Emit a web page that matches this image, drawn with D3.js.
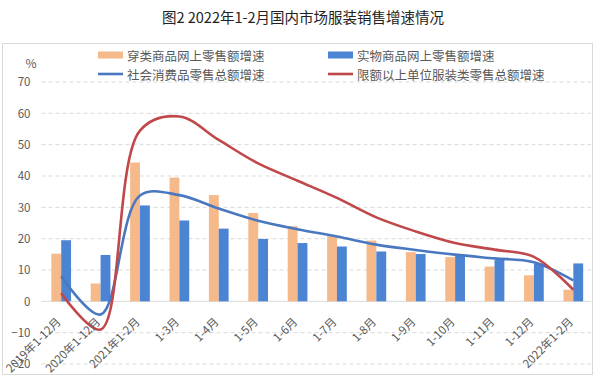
<!DOCTYPE html>
<html>
<head>
<meta charset="utf-8">
<script src="https://cdn.jsdelivr.net/npm/d3@7/dist/d3.min.js"></script>
<style>
  body { margin: 0; background: #fff; }
  svg text { font-family: "Noto Sans CJK SC", "Noto Sans", sans-serif; }
</style>
</head>
<body>
<svg id="chart" width="595" height="377"></svg>
<script>
var categories = ["2019年1-12月", "2020年1-12月", "2021年1-2月", "1-3月", "1-4月", "1-5月", "1-6月",
                  "1-7月", "1-8月", "1-9月", "1-10月", "1-11月", "1-12月", "2022年1-2月"];
var clothingOnline = [15.2, 5.7, 44.3, 39.5, 33.9, 28.2, 24.0, 20.8, 19.4, 15.7, 14.1, 11.1, 8.3, 3.7];
var physicalOnline = [19.5, 14.8, 30.6, 25.8, 23.2, 19.9, 18.6, 17.5, 15.9, 15.1, 14.6, 13.2, 12.0, 12.1];
var retailTotal = [8.0, -4.2, 33.8, 33.9, 29.6, 25.7, 23.0, 20.7, 18.1, 16.4, 14.9, 13.7, 12.5, 6.7];
var clothingRetail = [2.6, -9.0, 54.5, 59.0, 51.5, 44.0, 38.5, 33.0, 26.8, 22.3, 18.6, 16.5, 14.2, 3.7];
var yTicks = [-20, -10, 0, 10, 20, 30, 40, 50, 60, 70];

var legendItems = [
  {name: "穿类商品网上零售额增速", color: "#F6B98A", type: "bar"},
  {name: "实物商品网上零售额增速", color: "#4C84D4", type: "bar"},
  {name: "社会消费品零售总额增速", color: "#4A78C0", type: "line"},
  {name: "限额以上单位服装类零售总额增速", color: "#C0474A", type: "line"}
];

var svg = d3.select("svg#chart");
var plot = {left: 41.5, right: 593, top: 82, bottom: 364};

var x = d3.scaleBand().domain(categories).range([plot.left, plot.right]).padding(0);
var y = d3.scaleLinear().domain([-20, 70]).range([plot.bottom, plot.top]);
var barW = x.bandwidth() * 0.25;
var cx = d => x(d) + x.bandwidth() / 2;

// chart border
svg.append("rect")
   .attr("x", 2.5).attr("y", 43.5)
   .attr("width", 590).attr("height", 331)
   .attr("fill", "none")
   .attr("stroke", "#D9D9D9");

// title
svg.append("text")
   .attr("x", 303).attr("y", 16)
   .attr("text-anchor", "middle")
   .attr("dominant-baseline", "central")
   .style("font-size", "14.5px")
   .attr("fill", "#222")
   .text("图2 2022年1-2月国内市场服装销售增速情况");

// gridlines
svg.append("g").selectAll("line")
   .data(yTicks)
   .enter().append("line")
   .attr("x1", plot.left).attr("x2", plot.right - 2)
   .attr("y1", d => y(d)).attr("y2", d => y(d))
   .attr("stroke", "#D9D9D9")
   .attr("stroke-dasharray", d => d === 0 ? null : "4,3");

// y axis labels
var yAxis = d3.axisLeft(y).tickValues(yTicks).tickSize(0).tickPadding(11);
var yg = svg.append("g")
   .attr("transform", "translate(" + plot.left + ",0)")
   .call(yAxis);
yg.select(".domain").remove();
yg.selectAll("text")
  .attr("fill", "#595959")
  .style("font-size", "11.5px");

svg.append("text")
   .attr("x", 31).attr("y", 62)
   .attr("text-anchor", "middle")
   .attr("dominant-baseline", "central")
   .attr("fill", "#595959")
   .style("font-size", "12px")
   .text("%");

// bars
svg.append("g").selectAll("rect")
   .data(categories)
   .enter().append("rect")
   .attr("x", d => cx(d) - barW)
   .attr("width", barW)
   .attr("y", (d, i) => Math.min(y(clothingOnline[i]), y(0)))
   .attr("height", (d, i) => Math.abs(y(clothingOnline[i]) - y(0)))
   .attr("fill", legendItems[0].color);

svg.append("g").selectAll("rect")
   .data(categories)
   .enter().append("rect")
   .attr("x", d => cx(d))
   .attr("width", barW)
   .attr("y", (d, i) => Math.min(y(physicalOnline[i]), y(0)))
   .attr("height", (d, i) => Math.abs(y(physicalOnline[i]) - y(0)))
   .attr("fill", legendItems[1].color);

// smoothed lines (centripetal catmull-rom, close to excel's smoothing)
var line = d3.line()
   .x((d, i) => cx(categories[i]))
   .y(d => y(d))
   .curve(d3.curveCatmullRom.alpha(0.5));

svg.append("path")
   .datum(retailTotal)
   .attr("d", line)
   .attr("fill", "none")
   .attr("stroke", legendItems[2].color)
   .attr("stroke-width", 2.6);

svg.append("path")
   .datum(clothingRetail)
   .attr("d", line)
   .attr("fill", "none")
   .attr("stroke", legendItems[3].color)
   .attr("stroke-width", 2.6);

// x labels
svg.append("g").selectAll("text")
   .data(categories)
   .enter().append("text")
   .attr("transform", d => "translate(" + (cx(d) - 3) + ",319) rotate(-45)")
   .attr("text-anchor", "end")
   .attr("dominant-baseline", "central")
   .attr("fill", "#595959")
   .style("font-size", "11.5px")
   .text(d => d);

// legend
var lg = svg.append("g").selectAll("g")
   .data(legendItems)
   .enter().append("g")
   .attr("transform", (d, i) => "translate(" + (i % 2 === 0 ? 98 : 328) + "," + (i < 2 ? 55 : 74) + ")");

lg.filter(d => d.type === "bar").append("rect")
  .attr("x", 0).attr("y", -3.5)
  .attr("width", 25).attr("height", 7)
  .attr("fill", d => d.color);

lg.filter(d => d.type === "line").append("line")
  .attr("x1", 0).attr("x2", 25)
  .attr("stroke", d => d.color)
  .attr("stroke-width", 2.6);

lg.append("text")
  .attr("x", 29)
  .attr("dominant-baseline", "central")
  .attr("fill", "#595959")
  .style("font-size", "12.5px")
  .text(d => d.name);
</script>
</body>
</html>
